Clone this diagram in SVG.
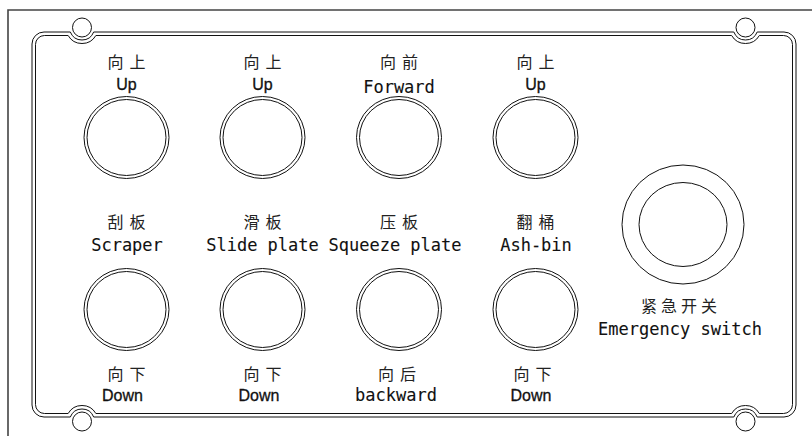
<svg xmlns="http://www.w3.org/2000/svg" width="812" height="436" viewBox="0 0 812 436">
<style>
.ln{fill:none;stroke:#111;stroke-width:1}
.frame{fill:none;stroke:#444;stroke-width:1.6}
.zh{font-family:"Noto Sans CJK SC","Noto Sans CJK JP",sans-serif;font-size:16px;fill:#222;text-anchor:middle;letter-spacing:6px}
.en{font-family:"DejaVu Sans Mono","Liberation Mono",monospace;font-size:17px;fill:#111;stroke:#111;stroke-width:0.1;text-anchor:middle}
.sn{font-family:"Liberation Sans",Arial,sans-serif;font-size:16px;fill:#111;stroke:#111;stroke-width:0.3;text-anchor:middle}
</style>
<rect width="812" height="436" fill="#fff"/>
<g id="panel">
<path class="frame" d="M8 436 V10 H812"/>
<path class="ln" d="M44 32 H70.34 A12.5 12.5 0 0 0 93.66 32 H733.84 A12.5 12.5 0 0 0 757.16 32 H784 A12 12 0 0 1 796 44 V405 A12 12 0 0 1 784 417 H757.16 A12.5 12.5 0 0 0 733.84 417 H93.66 A12.5 12.5 0 0 0 70.34 417 H44 A12 12 0 0 1 32 405 V44 A12 12 0 0 1 44 32 Z"/>
<path class="ln" d="M44.5 35.5 H68.14 A16 16 0 0 0 95.86 35.5 H731.64 A16 16 0 0 0 759.36 35.5 H783.5 A9 9 0 0 1 792.5 44.5 V404.5 A9 9 0 0 1 783.5 413.5 H759.36 A16 16 0 0 0 731.64 413.5 H95.86 A16 16 0 0 0 68.14 413.5 H44.5 A9 9 0 0 1 35.5 404.5 V44.5 A9 9 0 0 1 44.5 35.5 Z"/>
<circle class="ln" cx="82" cy="27.5" r="9.5"/>
<circle class="ln" cx="745.5" cy="27.5" r="9.5"/>
<circle class="ln" cx="82" cy="421.5" r="9.5"/>
<circle class="ln" cx="745.5" cy="421.5" r="9.5"/>
</g>
<g id="connectors"></g>
<g id="btn-scraper-up">
<text class="zh" x="129.5" y="68">向上</text>
<text class="sn" x="126.5" y="90">Up</text>
<ellipse class="ln" cx="126.5" cy="137.5" rx="42.5" ry="41"/>
<ellipse class="ln" cx="126.5" cy="137.5" rx="39.5" ry="38"/>
</g>
<g id="btn-slide-up">
<text class="zh" x="265.5" y="68">向上</text>
<text class="sn" x="262.5" y="90">Up</text>
<ellipse class="ln" cx="262.5" cy="137.5" rx="42.5" ry="41"/>
<ellipse class="ln" cx="262.5" cy="137.5" rx="39.5" ry="38"/>
</g>
<g id="btn-squeeze-forward">
<text class="zh" x="402" y="68">向前</text>
<text class="en" x="399" y="93">Forward</text>
<ellipse class="ln" cx="399" cy="137.5" rx="42.5" ry="41"/>
<ellipse class="ln" cx="399" cy="137.5" rx="39.5" ry="38"/>
</g>
<g id="btn-ashbin-up">
<text class="zh" x="538.5" y="68">向上</text>
<text class="sn" x="535.5" y="90">Up</text>
<ellipse class="ln" cx="535.5" cy="137.5" rx="42.5" ry="41"/>
<ellipse class="ln" cx="535.5" cy="137.5" rx="39.5" ry="38"/>
</g>
<g id="label-scraper">
<text class="zh" x="129.5" y="228">刮板</text>
<text class="en" x="127" y="251">Scraper</text>
</g>
<g id="label-slide">
<text class="zh" x="265.5" y="228">滑板</text>
<text class="en" x="262.5" y="251">Slide plate</text>
</g>
<g id="label-squeeze">
<text class="zh" x="402" y="228">压板</text>
<text class="en" x="395" y="251">Squeeze plate</text>
</g>
<g id="label-ashbin">
<text class="zh" x="538.5" y="228">翻桶</text>
<text class="en" x="536" y="251">Ash-bin</text>
</g>
<g id="btn-scraper-down">
<ellipse class="ln" cx="126.5" cy="309.5" rx="42.5" ry="41"/>
<ellipse class="ln" cx="126.5" cy="309.5" rx="39.5" ry="38"/>
<text class="zh" x="129.5" y="380">向下</text>
<text class="sn" x="122.5" y="401">Down</text>
</g>
<g id="btn-slide-down">
<ellipse class="ln" cx="262.5" cy="309.5" rx="42.5" ry="41"/>
<ellipse class="ln" cx="262.5" cy="309.5" rx="39.5" ry="38"/>
<text class="zh" x="265.5" y="380">向下</text>
<text class="sn" x="259" y="401">Down</text>
</g>
<g id="btn-squeeze-backward">
<ellipse class="ln" cx="399" cy="309.5" rx="42.5" ry="41"/>
<ellipse class="ln" cx="399" cy="309.5" rx="39.5" ry="38"/>
<text class="zh" x="400" y="380">向后</text>
<text class="en" x="396" y="401">backward</text>
</g>
<g id="btn-ashbin-down">
<ellipse class="ln" cx="535.5" cy="309.5" rx="42.5" ry="41"/>
<ellipse class="ln" cx="535.5" cy="309.5" rx="39.5" ry="38"/>
<text class="zh" x="535.5" y="380">向下</text>
<text class="sn" x="531" y="401">Down</text>
</g>
<g id="emergency-switch">
<ellipse class="ln" cx="683" cy="224.5" rx="61" ry="59.5"/>
<ellipse class="ln" cx="683" cy="224.5" rx="44" ry="42"/>
<text class="zh" x="681" y="312" style="letter-spacing:4px">紧急开关</text>
<text class="en" x="680" y="335">Emergency switch</text>
</g>
</svg>
